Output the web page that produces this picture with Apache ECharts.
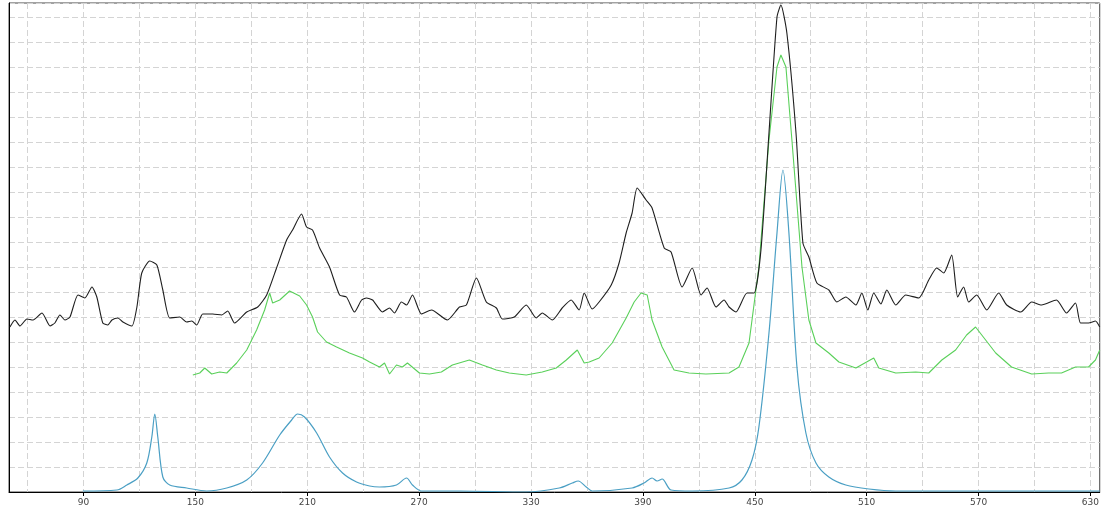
<!DOCTYPE html>
<html>
<head>
<meta charset="utf-8">
<script src="https://cdn.jsdelivr.net/npm/echarts@6/dist/echarts.min.js"></script>
<style>
  html, body { margin: 0; padding: 0; background: #fff; }
  #chart { width: 1102px; height: 512px; }
</style>
</head>
<body>
<div id="chart"></div>
<script>
// spectra: [x, intensity]
var blackSpec = [
    [50.5,6.6],[53.2,6.88],[55.9,6.64],[59.6,6.92],[62.9,6.88],[67.7,7.16],[72,6.64],[74.6,6.76],[77.3,7.08],[80,6.88],
    [82.7,7.0],[87,7.88],[90.7,7.76],[94.5,8.2],[97.1,7.8],[100.3,6.76],[103,6.68],[105.2,6.88],[108.4,6.96],[111.1,6.8],
    [115.9,6.64],[118.6,7.4],[121.2,8.76],[125.5,9.24],[129.3,9.08],[132.5,8.08],[136.2,6.96],[141.6,7.0],[145.3,6.8],[148,6.84],
    [150.7,6.68],[153.9,7.12],[159.3,7.12],[164.1,7.08],[167.3,7.24],[171,6.76],[177.5,7.2],[183.4,7.4],[188.2,7.88],[193.5,8.96],
    [198.9,10.08],[202.1,10.48],[206.9,11.12],[209.6,10.6],[212.8,10.48],[216.6,9.76],[221.9,9.0],[227.3,7.88],[231,7.8],[235.3,7.2],
    [239.1,7.68],[241.7,7.76],[245,7.68],[250.3,7.2],[254.1,7.36],[256.7,7.16],[260.5,7.6],[263.2,7.48],[266.4,7.88],[271.2,7.12],
    [276.6,7.28],[285.1,6.88],[291.6,7.4],[295.3,7.48],[300.7,8.56],[306,7.6],[311.4,7.36],[314.6,6.92],[321,7.0],[327.4,7.48],
    [332.8,6.96],[336,7.16],[341.4,6.88],[346.7,7.36],[351.5,7.68],[355.8,7.28],[358.5,7.96],[362.8,7.32],[366.5,7.6],[373,8.28],
    [377.2,9.16],[381,10.36],[384.2,11.16],[386.9,12.16],[391.7,11.68],[394.9,11.36],[401.4,9.76],[405.1,9.6],[411,8.2],[416.4,8.96],
    [421.2,7.88],[424.4,8.16],[429.2,7.4],[433.5,7.68],[436.2,7.4],[439.9,7.2],[445.8,7.96],[449.6,7.96],[453.3,9.68],[457.6,14.36],
    [461.9,19.0],[464,19.48],[467.2,18.36],[472.1,14.36],[475.8,9.96],[479,9.4],[483.3,8.36],[489.7,8.08],[494,7.6],[498.8,7.8],
    [504.2,7.48],[507.4,7.96],[510.6,7.28],[513.8,7.96],[517.6,7.52],[520.8,8.08],[525.6,7.48],[531,7.88],[537.9,7.76],[543.3,8.48],
    [547.6,8.96],[551.3,8.76],[555.6,9.48],[558.8,7.8],[562,8.2],[564.7,7.6],[569,7.88],[574.4,7.28],[580.8,7.96],[585.1,7.48],
    [592.6,7.2],[598.5,7.6],[603.8,7.48],[611.8,7.68],[617.2,7.16],[622,7.56],[624.7,6.76],[629,6.76],[632.7,6.84],[635,6.6]
];
var greenSpec = [
    [148.6,4.68],[152.3,4.76],[155,4.96],[158.7,4.72],[163,4.8],[166.8,4.76],[172.1,5.16],[177.5,5.68],[182.8,6.48],[187.1,7.28],
    [189.8,7.96],[191.4,7.56],[195.2,7.68],[200.5,8.04],[205.9,7.84],[209.6,7.48],[212.8,7.0],[215.5,6.4],[220.3,6.0],[225.7,5.8],
    [232.6,5.56],[239.6,5.36],[243.4,5.2],[248.7,5.0],[251.4,5.16],[254.1,4.72],[257.8,5.08],[261,5.0],[263.7,5.16],[270.1,4.76],
    [275.5,4.72],[281.9,4.8],[287.8,5.08],[296.9,5.28],[303.9,5.08],[311.4,4.88],[318.3,4.76],[327.4,4.68],[336,4.8],[343.5,4.96],
    [348.9,5.28],[354.8,5.68],[358.5,5.16],[361.2,5.2],[366.5,5.36],[373.5,5.96],[381,6.96],[385.3,7.6],[389,7.96],[392.3,7.88],
    [394.9,6.88],[400.3,5.8],[406.7,4.88],[414.7,4.76],[423.8,4.72],[436.2,4.76],[441.5,5.0],[446.9,5.96],[452.2,9.0],[457.6,14.08],
    [461.9,17.0],[464,17.48],[466.7,17.0],[469.9,14.08],[475.3,9.0],[479,6.88],[482.8,5.96],[489.7,5.56],[495.1,5.2],[504.2,4.96],
    [513.8,5.36],[516.5,4.96],[525.6,4.76],[536.3,4.8],[543.3,4.76],[550.3,5.28],[557.7,5.68],[563.6,6.28],[568.4,6.6],[573.8,6.08],
    [579.2,5.56],[587.7,5.0],[598.5,4.72],[607.6,4.76],[614.5,4.76],[622,5.0],[629,5.0],[632.7,5.28],[635,5.68]
];
var blueSpec = [
    [89.6,0.04],[107.8,0.08],[113.2,0.28],[119.1,0.56],[123.9,1.16],[126.6,2.2],[128.2,3.12],[129.8,2.2],[132.5,0.6],[136.2,0.28],
    [145.3,0.16],[156,0.04],[166.8,0.16],[177.5,0.48],[186,1.16],[195.2,2.28],[201.6,2.88],[204.8,3.12],[208.5,3.0],[215,2.36],
    [221.9,1.4],[228.9,0.76],[236.4,0.4],[243.4,0.24],[248.7,0.2],[257.8,0.28],[263.2,0.56],[266.4,0.28],[271.2,0.04],[291.6,0.04],
    [327.4,0.0],[345.1,0.16],[352.1,0.36],[355.3,0.44],[359.6,0.2],[362.8,0.04],[384.2,0.16],[390.6,0.36],[394.9,0.56],[397.6,0.44],
    [400.3,0.52],[405.1,0.08],[416.4,0.04],[436.2,0.16],[443.1,0.48],[448.5,1.28],[452.2,2.6],[457.6,6.36],[461.9,10.36],[465.1,12.88],
    [468.3,10.36],[472.6,5.0],[477.4,2.36],[482.8,1.16],[489.7,0.6],[498.8,0.28],[511.2,0.12],[525.6,0.04],[635,0.04]
];
var xLabels = [90, 150, 210, 270, 330, 390, 450, 510, 570, 630];
var xGrid = [60, 90, 120, 150, 180, 210, 240, 270, 300, 330, 360, 390, 420, 450, 480, 510, 540, 570, 600, 630];

var chart = echarts.init(document.getElementById('chart'));
var gridLine = { show: true, lineStyle: { color: '#d4d4d4', type: [6, 3], width: 1 } };

chart.setOption({
    animation: false,
    grid: { left: 9, right: 1, top: 3, bottom: 20, show: true, borderColor: '#444', borderWidth: 1 },
    xAxis: [{
        type: 'value', min: 50, max: 635,
        axisLine: { show: true, onZero: false, lineStyle: { color: '#000' } },
        axisTick: { show: true, customValues: xLabels, length: 4, lineStyle: { color: '#000' } },
        axisLabel: { customValues: xLabels, fontSize: 9, color: '#444', margin: 6, fontFamily: 'DejaVu Sans' },
        splitLine: { show: false }
    }, {
        type: 'value', min: 50, max: 635, position: 'bottom',
        axisLine: { show: false },
        axisTick: { show: false, customValues: xGrid },
        axisLabel: { show: false, customValues: xGrid },
        splitLine: gridLine
    }],
    yAxis: {
        type: 'value', min: 0, max: 19.56, interval: 1,
        axisLine: { show: true, lineStyle: { color: '#000' } },
        axisTick: { show: false },
        axisLabel: { show: false },
        splitLine: gridLine
    },
    series: [
        { type: 'line', data: blueSpec, showSymbol: false, smooth: 0.3, lineStyle: { color: '#4a9fc4', width: 1.2 } },
        { type: 'line', data: greenSpec, showSymbol: false, lineStyle: { color: '#5ad05a', width: 1.1 } },
        { type: 'line', data: blackSpec, showSymbol: false, smooth: 0.2, lineStyle: { color: '#1e1e1e', width: 1.1 } }
    ]
});
</script>
</body>
</html>
